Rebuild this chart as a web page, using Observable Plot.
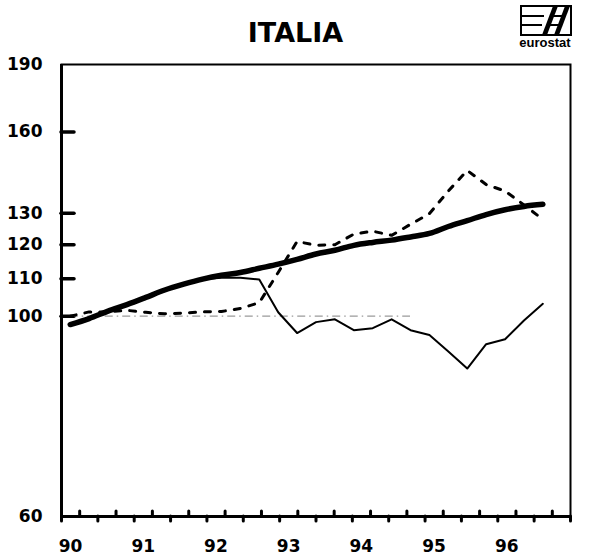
<!DOCTYPE html>
<html>
<head>
<meta charset="utf-8">
<script src="https://cdn.jsdelivr.net/npm/d3@7"></script>
<script src="https://cdn.jsdelivr.net/npm/@observablehq/plot@0.6"></script>
<style>
  body { margin: 0; background: #fff; }
  #wrap { position: relative; width: 591px; height: 556px; font-family: "DejaVu Sans", sans-serif; overflow: hidden; }
  #title { position: absolute; left: 0; top: 19px; width: 591px; text-align: center; font-weight: bold; font-size: 27px; line-height: 27px; color: #000; }
  #logo { position: absolute; left: 520px; top: 5px; }
  #logotext { position: absolute; left: 514px; top: 36px; width: 62px; text-align: center; font: bold 13px "Liberation Sans", Arial, sans-serif; line-height: 13px; color: #000; }
  #chart { position: absolute; left: 0; top: 56px; }
</style>
</head>
<body>
<div id="wrap">
  <div id="title">ITALIA</div>
  <svg id="logo" width="53" height="32" viewBox="0 0 53 32">
    <rect x="1" y="1" width="50" height="29" fill="none" stroke="#000" stroke-width="2"/>
    <line x1="1" y1="11" x2="24" y2="11" stroke="#000" stroke-width="2"/>
    <line x1="1" y1="20" x2="22" y2="20" stroke="#000" stroke-width="2"/>
    <polygon points="22,30 27,30 38,1 33,1" fill="#000"/>
    <polygon points="34,30 39,30 50,1 45,1" fill="#000"/>
    <line x1="30" y1="11" x2="44" y2="11" stroke="#000" stroke-width="2"/>
    <line x1="27" y1="20" x2="41" y2="20" stroke="#000" stroke-width="2"/>
  </svg>
  <div id="logotext">eurostat</div>
  <div id="chart"></div>
</div>
<script>
const t = [1990.12, 1990.38, 1990.64, 1990.90, 1991.16, 1991.42, 1991.68, 1991.94,
           1992.20, 1992.46, 1992.72, 1992.98, 1993.24, 1993.50, 1993.76, 1994.02,
           1994.28, 1994.54, 1994.80, 1995.06, 1995.32, 1995.58, 1995.84, 1996.10,
           1996.36, 1996.62];

// Thick smooth line (trend)
const trend = [97.9, 99.4, 101.3, 103.0, 104.9, 106.9, 108.5, 109.9,
               111.0, 111.8, 113.0, 114.2, 115.6, 117.2, 118.3, 119.8,
               120.7, 121.4, 122.4, 123.5, 125.7, 127.6, 129.6, 131.2,
               132.3, 133.0];

// Thin solid line
const actual = [98.0, 99.6, 101.4, 103.2, 105.1, 107.0, 108.6, 109.9,
                110.3, 110.3, 109.8, 101.0, 95.8, 98.5, 99.2, 96.5,
                97.0, 99.2, 96.5, 95.3, 91.4, 87.5, 93.1, 94.3,
                98.9, 103.2];

// Dashed line
const dashed = [100.0, 101.1, 101.1, 101.5, 101.0, 100.6, 100.8, 101.1,
                101.2, 102.0, 103.5, 111.8, 121.0, 119.8, 120.0, 123.3,
                124.2, 122.9, 126.4, 129.9, 137.6, 145.0, 139.9, 137.6,
                132.8, 128.0];

// Grey reference level (base 100), drawn up to this observation index
const refLevel = 100;
const refEndIndex = 18;

// Axis ticks and labels
const yearTicks = [1990, 1991, 1992, 1993, 1994, 1995, 1996];
const yearLabels = ["90", "91", "92", "93", "94", "95", "96"];
const yLabelTicks = [60, 100, 110, 120, 130, 160, 190];
const yMarkTicks = [100, 110, 120, 130, 160];
const halfYearTicks = d3.range(1990, 1997.001, 0.5);
const oddQuarterTicks = d3.range(1990.25, 1997, 0.5);

const rows = t.map((x, i) => ({t: x, trend: trend[i], actual: actual[i], dashed: dashed[i]}));

const W = 591, H = 500;
const mL = 61, mR = 21, mT = 8, mB = 40;
const innerW = W - mL - mR;
const innerH = H - mT - mB;
const yTickLen = 13, xTickLen = 5;

const chart = Plot.plot({
  width: W,
  height: H,
  marginLeft: mL,
  marginRight: mR,
  marginTop: mT,
  marginBottom: mB,
  style: {fontFamily: "DejaVu Sans", fontSize: "17px", fontWeight: "bold", color: "#000", background: "#fff", overflow: "visible"},
  x: {type: "linear", domain: [1990, 1997]},
  y: {type: "log", domain: [60, 190]},
  marks: [
    Plot.frame({stroke: "#000", strokeWidth: 2}),
    Plot.ruleY([60], {stroke: "#000", strokeWidth: 3}),
    Plot.ruleX([1990], {stroke: "#000", strokeWidth: 3}),
    // y tick labels
    Plot.axisY({ticks: yLabelTicks, tickSize: 0, tickPadding: 19, tickFormat: d => String(d), label: null, fontSize: 17}),
    // inward y tick marks
    Plot.ruleY(yMarkTicks, {stroke: "#000", strokeWidth: 3.5, strokeLinecap: "round", insetRight: innerW - yTickLen}),
    // x quarter ticks: alternately below and above the axis line
    Plot.ruleX(halfYearTicks, {stroke: "#000", strokeWidth: 3, strokeLinecap: "round", insetTop: innerH, insetBottom: -xTickLen}),
    Plot.ruleX(oddQuarterTicks, {stroke: "#000", strokeWidth: 3, strokeLinecap: "round", insetTop: innerH - xTickLen, insetBottom: 0}),
    // x year labels
    Plot.axisX({ticks: yearTicks, tickSize: 0, tickPadding: 23, dx: 9, tickFormat: d => yearLabels[yearTicks.indexOf(d)], label: null, fontSize: 17}),
    Plot.ruleY([refLevel], {x1: t[0], x2: t[refEndIndex], stroke: "#9a9a9a", strokeWidth: 1.2, strokeDasharray: "8,4,1.5,4"}),
    Plot.line(rows, {x: "t", y: "actual", stroke: "#000", strokeWidth: 2}),
    Plot.line(rows, {x: "t", y: "trend", stroke: "#000", strokeWidth: 5.5, curve: "monotone-x", strokeLinecap: "round"}),
    Plot.line(rows, {x: "t", y: "dashed", stroke: "#000", strokeWidth: 3, strokeDasharray: "6,9"})
  ]
});
document.getElementById("chart").appendChild(chart);
</script>
</body>
</html>
